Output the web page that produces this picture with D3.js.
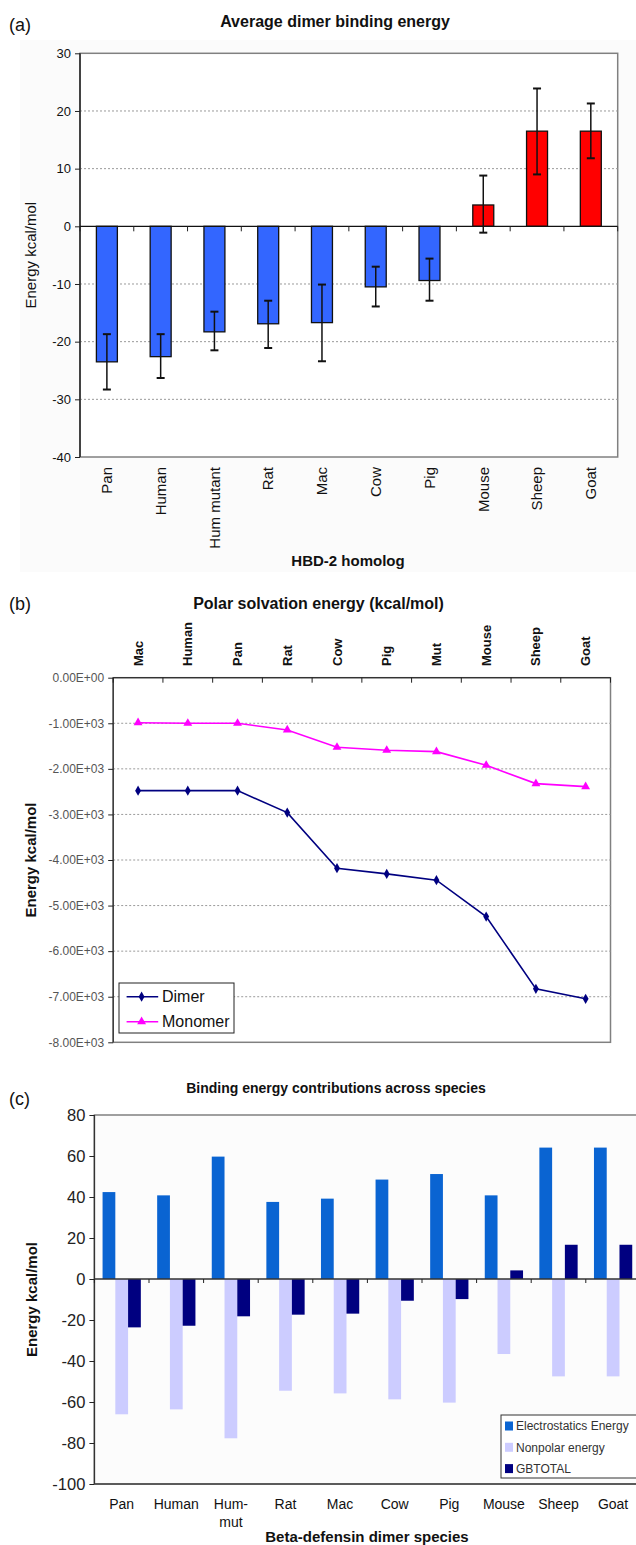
<!DOCTYPE html>
<html>
<head>
<meta charset="utf-8">
<script src="https://cdn.jsdelivr.net/npm/d3@7"></script>
<style>
  body { margin: 0; background: #fff; }
  svg { display: block; font-family: "Liberation Sans", Arial, sans-serif; }
</style>
</head>
<body>
<div id="chart"></div>
<script>
// (a) average dimer binding energy, with error bars
const homologs = ['Pan', 'Human', 'Hum mutant', 'Rat', 'Mac', 'Cow', 'Pig', 'Mouse', 'Sheep', 'Goat'];
const dimerEnergy = [-23.5, -22.6, -18.3, -16.9, -16.7, -10.5, -9.4, 3.7, 16.5, 16.5];
const errHigh = [-18.7, -18.7, -14.8, -12.9, -10.1, -7.0, -5.6, 8.8, 23.9, 21.3];
const errLow = [-28.3, -26.3, -21.5, -21.1, -23.4, -13.9, -12.9, -1.1, 9.0, 11.8];
const ticksA = [-40, -30, -20, -10, 0, 10, 20, 30];

// (b) polar solvation energy
const solvSpecies = ['Mac', 'Human', 'Pan', 'Rat', 'Cow', 'Pig', 'Mut', 'Mouse', 'Sheep', 'Goat'];
const dimerSolv = [-2478, -2478, -2478, -2960, -4180, -4305, -4443, -5241, -6827, -7046];
const monomerSolv = [-987, -1000, -1000, -1147, -1527, -1593, -1622, -1922, -2324, -2390];
const ticksB = [0, -1000, -2000, -3000, -4000, -5000, -6000, -7000, -8000];
const tickLabelsB = ['0.00E+00', '-1.00E+03', '-2.00E+03', '-3.00E+03', '-4.00E+03',
  '-5.00E+03', '-6.00E+03', '-7.00E+03', '-8.00E+03'];

// (c) binding energy contributions
const speciesC = ['Pan', 'Human', 'Hum-|mut', 'Rat', 'Mac', 'Cow', 'Pig', 'Mouse', 'Sheep', 'Goat'];
const electro = [42.4, 40.8, 59.7, 37.6, 39.2, 48.5, 51.2, 40.8, 64.1, 64.1];
const nonpolar = [-66.0, -63.6, -77.7, -54.5, -55.8, -58.7, -60.3, -36.6, -47.5, -47.5];
const gbtotal = [-23.6, -22.8, -18.2, -17.4, -16.9, -10.6, -9.8, 4.2, 16.7, 16.7];
const seriesC = ['Electrostatics Energy', 'Nonpolar energy', 'GBTOTAL'];
const ticksC = [-100, -80, -60, -40, -20, 0, 20, 40, 60, 80];

const W = 636, H = 1545;
const GRID = '#9a9a9a', FRAME = '#808080';

const svg = d3.select('#chart').append('svg')
  .attr('width', W).attr('height', H).attr('viewBox', `0 0 ${W} ${H}`);

function panelLetter(txt, y) {
  svg.append('text').attr('x', 9).attr('y', y).attr('font-size', 18).attr('fill', '#111').text(txt);
}

function yAxis(g, y, ticks, x0, fmt, size, color) {
  g.append('g').attr('transform', `translate(${x0},0)`)
    .call(d3.axisLeft(y).tickValues(ticks).tickSize(5).tickPadding(4).tickFormat(fmt))
    .call((s) => {
      s.select('.domain').remove();
      s.selectAll('line').attr('stroke', '#222');
      s.selectAll('text').attr('font-size', size).attr('fill', color)
        .attr('font-family', '"Liberation Sans", Arial, sans-serif');
    });
}

function bandTicks(g, x, yPos, len) {
  const edges = x.domain().map((d) => x(d)).concat([x.range()[1]]);
  g.selectAll(null).data(edges).join('line')
    .attr('x1', (d) => d).attr('x2', (d) => d)
    .attr('y1', yPos).attr('y2', yPos + len)
    .attr('stroke', '#222');
}

// ---------- panel (a)
{
  const L = 80, R = 617.7, T = 53.3, B = 457;
  const g = svg.append('g');
  g.append('rect').attr('x', 20).attr('y', 40).attr('width', 616).attr('height', 532).attr('fill', '#fbfbfb');
  const x = d3.scaleBand().domain(homologs).range([L, R]);
  const y = d3.scaleLinear().domain([-40, 30]).range([B, T]);

  g.append('rect').attr('x', L).attr('y', T).attr('width', R - L).attr('height', B - T)
    .attr('fill', '#fff').attr('stroke', FRAME).attr('stroke-width', 1.5);
  g.selectAll('.grid').data(ticksA.filter((t) => t !== 0 && t !== -40 && t !== 30)).join('line')
    .attr('x1', L).attr('x2', R).attr('y1', (d) => y(d)).attr('y2', (d) => y(d))
    .attr('stroke', GRID).attr('stroke-dasharray', '2 2');
  g.append('line').attr('x1', L).attr('x2', L).attr('y1', T).attr('y2', B).attr('stroke', '#111').attr('stroke-width', 1.3);
  yAxis(g, y, ticksA, L, (d) => d, 13, '#111');

  const bw = x.bandwidth() * 0.39;
  g.selectAll('.bar').data(dimerEnergy).join('rect')
    .attr('x', (d, i) => x(homologs[i]) + (x.bandwidth() - bw) / 2)
    .attr('y', (d) => y(Math.max(0, d)))
    .attr('width', bw)
    .attr('height', (d) => Math.abs(y(d) - y(0)))
    .attr('fill', (d) => (d < 0 ? '#3366FF' : '#FF0000'))
    .attr('stroke', '#111').attr('stroke-width', 1.3);

  g.append('line').attr('x1', L).attr('x2', R).attr('y1', y(0)).attr('y2', y(0)).attr('stroke', '#111').attr('stroke-width', 1.3);
  bandTicks(g, x, y(0), 5);

  const cx = (i) => x(homologs[i]) + x.bandwidth() / 2;
  const err = g.append('g').attr('stroke', '#111').attr('stroke-width', 1.5);
  err.selectAll('.v').data(homologs).join('line')
    .attr('x1', (d, i) => cx(i)).attr('x2', (d, i) => cx(i))
    .attr('y1', (d, i) => y(errHigh[i])).attr('y2', (d, i) => y(errLow[i]));
  [errHigh, errLow].forEach((arr) => {
    err.selectAll(null).data(arr).join('line')
      .attr('x1', (d, i) => cx(i) - 4).attr('x2', (d, i) => cx(i) + 4)
      .attr('y1', (d) => y(d)).attr('y2', (d) => y(d))
      .attr('stroke-width', 2);
  });

  g.selectAll('.xl').data(homologs).join('text')
    .attr('transform', (d) => `translate(${x(d) + x.bandwidth() / 2},467) rotate(-90)`)
    .attr('text-anchor', 'end').attr('dy', '0.35em')
    .attr('font-size', 15).attr('fill', '#111').text((d) => d);

  g.append('text').attr('x', 335).attr('y', 27).attr('text-anchor', 'middle')
    .attr('font-size', 16).attr('font-weight', 'bold').attr('fill', '#111').text('Average dimer binding energy');
  g.append('text').attr('transform', `translate(31,${(T + B) / 2}) rotate(-90)`)
    .attr('text-anchor', 'middle').attr('dy', '0.35em')
    .attr('font-size', 15).attr('fill', '#111').text('Energy kcal/mol');
  g.append('text').attr('x', 348).attr('y', 566).attr('text-anchor', 'middle')
    .attr('font-size', 15).attr('font-weight', 'bold').attr('fill', '#111').text('HBD-2 homolog');
  panelLetter('(a)', 31);
}

// ---------- panel (b)
{
  const L = 113.2, R = 610.5, T = 677.7, B = 1042.3;
  const g = svg.append('g');
  const x = d3.scaleBand().domain(solvSpecies).range([L, R]);
  const y = d3.scaleLinear().domain([-8000, 0]).range([B, T]);

  g.append('rect').attr('x', L).attr('y', T).attr('width', R - L).attr('height', B - T)
    .attr('fill', '#fff').attr('stroke', FRAME).attr('stroke-width', 1.5);
  g.selectAll('.grid').data(ticksB.filter((t) => t !== 0 && t !== -8000)).join('line')
    .attr('x1', L).attr('x2', R).attr('y1', (d) => y(d)).attr('y2', (d) => y(d))
    .attr('stroke', GRID).attr('stroke-dasharray', '2 2');
  g.append('line').attr('x1', L).attr('x2', L).attr('y1', T).attr('y2', B).attr('stroke', '#333').attr('stroke-width', 1.3);
  g.append('line').attr('x1', L).attr('x2', R).attr('y1', T).attr('y2', T).attr('stroke', '#333').attr('stroke-width', 1.3);
  yAxis(g, y, ticksB, L, (d, i) => tickLabelsB[i], 12, '#555');
  bandTicks(g, x, T, 5);

  const px = (i) => x(solvSpecies[i]) + x.bandwidth() / 2;
  const line = d3.line().x((d, i) => px(i)).y((d) => y(d));
  g.append('path').datum(monomerSolv).attr('d', line)
    .attr('fill', 'none').attr('stroke', '#FF00FF').attr('stroke-width', 1.6);
  g.append('path').datum(dimerSolv).attr('d', line)
    .attr('fill', 'none').attr('stroke', '#000080').attr('stroke-width', 1.6);
  const tri = d3.symbol(d3.symbolTriangle, 34);
  const dia = d3.symbol(d3.symbolDiamond, 30);
  g.selectAll('.mm').data(monomerSolv).join('path')
    .attr('transform', (d, i) => `translate(${px(i)},${y(d)})`)
    .attr('d', tri).attr('fill', '#FF00FF');
  g.selectAll('.dm').data(dimerSolv).join('path')
    .attr('transform', (d, i) => `translate(${px(i)},${y(d)})`)
    .attr('d', dia).attr('fill', '#000080');

  g.selectAll('.xl').data(solvSpecies).join('text')
    .attr('transform', (d) => `translate(${x(d) + x.bandwidth() / 2},666) rotate(-90)`)
    .attr('text-anchor', 'start').attr('dy', '0.35em')
    .attr('font-size', 13).attr('font-weight', 'bold').attr('fill', '#111').text((d) => d);

  // legend
  const lg = g.append('g');
  lg.append('rect').attr('x', 119).attr('y', 983).attr('width', 115).attr('height', 50)
    .attr('fill', '#fff').attr('stroke', '#222').attr('stroke-width', 1);
  [['Dimer', '#000080', dia], ['Monomer', '#FF00FF', tri]].forEach(([name, col, sym], k) => {
    const ly = 996.7 + k * 25;
    lg.append('line').attr('x1', 126.6).attr('x2', 158.2).attr('y1', ly).attr('y2', ly)
      .attr('stroke', col).attr('stroke-width', 1.6);
    lg.append('path').attr('transform', `translate(141.6,${ly})`).attr('d', sym).attr('fill', col);
    lg.append('text').attr('x', 162).attr('y', ly).attr('dy', '0.35em')
      .attr('font-size', 16).attr('fill', '#111').text(name);
  });

  g.append('text').attr('x', 318.5).attr('y', 609).attr('text-anchor', 'middle')
    .attr('font-size', 16).attr('font-weight', 'bold').attr('fill', '#111').text('Polar solvation energy (kcal/mol)');
  g.append('text').attr('transform', `translate(30.5,${(T + B) / 2}) rotate(-90)`)
    .attr('text-anchor', 'middle').attr('dy', '0.35em')
    .attr('font-size', 15).attr('font-weight', 'bold').attr('fill', '#111').text('Energy kcal/mol');
  panelLetter('(b)', 610);
}

// ---------- panel (c)
{
  const L = 94.4, R = 640.4, T = 1115, B = 1484;
  const g = svg.append('g');
  const x = d3.scaleBand().domain(speciesC).range([L, R]);
  const y = d3.scaleLinear().domain([-100, 80]).range([B, T]);
  const sub = d3.scaleBand().domain(seriesC).range([0, x.bandwidth()]).paddingOuter(0.64);
  const colors = ['#0A64D2', '#CCCCFF', '#000080'];

  g.append('rect').attr('x', L).attr('y', T).attr('width', R - L).attr('height', B - T)
    .attr('fill', '#fcfcfc').attr('stroke', FRAME).attr('stroke-width', 1.5);
  g.append('line').attr('x1', L).attr('x2', L).attr('y1', T).attr('y2', B).attr('stroke', '#333').attr('stroke-width', 1.3);
  g.append('line').attr('x1', L).attr('x2', R).attr('y1', B).attr('y2', B).attr('stroke', '#444').attr('stroke-width', 1.3);
  yAxis(g, y, ticksC, L, (d) => d, 16.5, '#222');

  [electro, nonpolar, gbtotal].forEach((vals, k) => {
    g.selectAll(null).data(vals).join('rect')
      .attr('x', (d, i) => x(speciesC[i]) + sub(seriesC[k]))
      .attr('y', (d) => y(Math.max(0, d)))
      .attr('width', sub.bandwidth())
      .attr('height', (d) => Math.abs(y(d) - y(0)))
      .attr('fill', colors[k]);
  });
  g.append('line').attr('x1', L).attr('x2', R).attr('y1', y(0)).attr('y2', y(0)).attr('stroke', '#333').attr('stroke-width', 1.3);
  bandTicks(g, x, y(0), 4);

  g.selectAll('.xl').data(speciesC).join('text')
    .attr('x', (d) => x(d) + x.bandwidth() / 2).attr('y', 1509)
    .attr('text-anchor', 'middle').attr('font-size', 14).attr('fill', '#111')
    .each(function (d) {
      d.split('|').forEach((part, j) => {
        d3.select(this).append('tspan').attr('x', x(d) + x.bandwidth() / 2)
          .attr('dy', j ? 18 : 0).text(part);
      });
    });

  // legend
  const lg = g.append('g');
  lg.append('rect').attr('x', 501).attr('y', 1415).attr('width', 140).attr('height', 63)
    .attr('fill', '#fff').attr('stroke', '#333').attr('stroke-width', 1);
  seriesC.forEach((name, k) => {
    const ly = 1426 + k * 21.3;
    lg.append('rect').attr('x', 505).attr('y', ly - 4.5).attr('width', 8).attr('height', 9).attr('fill', colors[k]);
    lg.append('text').attr('x', 516).attr('y', ly).attr('dy', '0.35em')
      .attr('font-size', 12).attr('fill', '#333').text(name);
  });

  g.append('text').attr('x', 336).attr('y', 1093).attr('text-anchor', 'middle')
    .attr('font-size', 14).attr('font-weight', 'bold').attr('fill', '#111').text('Binding energy contributions across species');
  g.append('text').attr('transform', `translate(32,${(T + B) / 2}) rotate(-90)`)
    .attr('text-anchor', 'middle').attr('dy', '0.35em')
    .attr('font-size', 15).attr('font-weight', 'bold').attr('fill', '#111').text('Energy kcal/mol');
  g.append('text').attr('x', 367).attr('y', 1542).attr('text-anchor', 'middle')
    .attr('font-size', 15).attr('font-weight', 'bold').attr('fill', '#111').text('Beta-defensin dimer species');
  panelLetter('(c)', 1105);
}
</script>
</body>
</html>
